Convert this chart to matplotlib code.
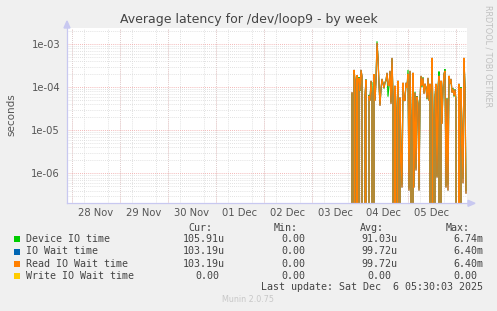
import datetime as dt
import numpy as np
import matplotlib
matplotlib.use("Agg")
import matplotlib.pyplot as plt
import matplotlib.dates as mdates
from matplotlib.ticker import FixedLocator, NullFormatter, LogLocator
from matplotlib.patches import Polygon, Rectangle

# ---------------- data ----------------
title = "Average latency for /dev/loop9 - by week"
y_label = "seconds"
series_start = dt.datetime(2025, 12, 3, 20, 0)
step_minutes = 30

# values in microseconds (0 = below the axis)
read_wait_us = [
    74, 0, 250, 140, 0, 190, 0, 164, 82, 250, 180, 0, 0, 63, 148, 0, 0, 63, 48, 140,
    70, 0, 200, 48, 140, 1050, 480, 120, 37, 90, 155, 120, 96, 130, 140, 214, 110, 107, 238, 41,
    475, 60, 0, 107, 0, 30, 140, 0, 57, 3, 0.47, 126, 50, 48, 126, 96, 203, 0.4, 238, 20,
    0, 214, 0.47, 74, 1.17, 60, 41, 0.4, 48, 182, 107, 164, 70, 120, 96, 54, 164, 48, 119, 0,
    475, 20, 0, 57, 119, 0.8, 90, 182, 0, 140, 14, 90, 203, 238, 0.47, 54, 0.4, 182, 120, 155,
    74, 91, 63, 87, 48, 0, 0, 119, 0, 96, 10, 0.59, 475, 96, 0.35,
]
device_io_us = [
    70, 0, 240, 150, 0, 185, 0, 170, 80, 245, 175, 0, 0, 60, 150, 0, 0, 66, 50, 135,
    126, 0, 190, 52, 150, 1150, 470, 115, 40, 88, 150, 125, 92, 125, 145, 205, 60, 110, 230, 45,
    460, 62, 0, 105, 0, 32, 135, 0, 55, 3.2, 0.55, 120, 52, 50, 122, 100, 250, 0.45, 230, 22,
    0, 205, 0.5, 78, 1.3, 62, 43, 0.45, 50, 175, 100, 170, 75, 115, 100, 52, 158, 50, 115, 0,
    460, 22, 0, 60, 115, 0.85, 95, 230, 0, 135, 15, 95, 198, 260, 0.5, 56, 0.55, 175, 118, 150,
    78, 95, 60, 90, 50, 0, 0, 115, 0, 100, 11, 0.75, 460, 100, 0.4,
]
io_wait_us = list(read_wait_us)  # identical to read wait in the reference
write_wait_us = [0] * len(read_wait_us)

series_names = ["Device IO time", "IO Wait time", "Read IO Wait time", "Write IO Wait time"]
series_colors = ["#00cc00", "#0066b3", "#ff8000", "#ffcc00"]
cur_vals = ["105.91u", "103.19u", "103.19u", "0.00"]
min_vals = ["0.00", "0.00", "0.00", "0.00"]
avg_vals = ["91.03u", "99.72u", "99.72u", "0.00"]
max_vals = ["6.74m", "6.40m", "6.40m", "0.00"]
day_labels = ["28 Nov", "29 Nov", "30 Nov", "01 Dec", "02 Dec", "03 Dec", "04 Dec", "05 Dec"]
y_ticks = [1e-6, 1e-5, 1e-4, 1e-3]
y_tick_labels = ["1e-06", "1e-05", "1e-04", "1e-03"]
last_update = "Last update: Sat Dec  6 05:30:03 2025"
version = "Munin 2.0.75"
side_text = "RRDTOOL / TOBI OETIKER"

x_start = dt.datetime(2025, 11, 27, 21, 30)
x_end = dt.datetime(2025, 12, 6, 5, 30)
y_min, y_max = 2.03e-7, 2.34e-3

# ---------------- figure ----------------
W, H = 497, 311
fig = plt.figure(figsize=(W / 100, H / 100), dpi=100, facecolor="#f0f0f0")

def fx(px):
    return px / W

def fy(py):
    return 1 - py / H

left, right, top, bottom = 67, 467, 28, 203.3
ax = fig.add_axes([fx(left), fy(bottom), (right - left) / W, (bottom - top) / H])
ax.set_facecolor("white")

times = [series_start + dt.timedelta(minutes=step_minutes * i) for i in range(len(read_wait_us))]
widths = [0.8, 0.8, 0.9, 0.8]
for vals, col, lw in zip([device_io_us, io_wait_us, read_wait_us, write_wait_us], series_colors, widths):
    ax.plot(times, np.array(vals, dtype=float) * 1e-6, color=col, lw=lw, solid_joinstyle="miter")

ax.set_yscale("log", nonpositive="clip")
ax.set_ylim(y_min, y_max)
ax.set_xlim(x_start, x_end)

# y ticks / grid
ax.yaxis.set_major_locator(FixedLocator(y_ticks))
ax.set_yticklabels(y_tick_labels)
ax.yaxis.set_minor_locator(LogLocator(base=10, subs=np.arange(2, 10)))
ax.yaxis.set_minor_formatter(NullFormatter())
ax.grid(True, which="major", axis="y", color="#f0a0a0", lw=0.6, ls=(0, (1, 1.5)))
ax.grid(True, which="minor", axis="y", color="#d8d8d8", lw=0.6, ls=(0, (1, 1.5)))

# x ticks at noon, grid every 6h, red at midnight
noon_ticks = [dt.datetime(2025, 11, 28, 12) + dt.timedelta(days=i) for i in range(len(day_labels))]
ax.xaxis.set_major_locator(FixedLocator(mdates.date2num(noon_ticks)))
ax.set_xticklabels(day_labels)
ax.xaxis.set_minor_locator(mdates.HourLocator(byhour=[0, 6, 12, 18]))
ax.grid(True, which="minor", axis="x", color="#d8d8d8", lw=0.6, ls=(0, (1, 1.5)))
d = dt.datetime(2025, 11, 28)
while d < x_end:
    ax.axvline(d, color="#f0a0a0", lw=0.6, ls=(0, (1, 1.5)), zorder=0.5)
    d += dt.timedelta(days=1)
ax.set_axisbelow(True)

ax.tick_params(which="both", length=0, labelsize=7.2, colors="#555555")
ax.tick_params(axis="y", pad=5)
ax.tick_params(axis="x", pad=3.5)

for s in ["top", "right"]:
    ax.spines[s].set_visible(False)
for s in ["left", "bottom"]:
    ax.spines[s].set_color("#c8c8f0")
    ax.spines[s].set_linewidth(0.9)

# axis arrows
fig.patches.append(Polygon([[fx(64), fy(28)], [fx(70), fy(28)], [fx(67), fy(21)]],
                           closed=True, transform=fig.transFigure, color="#c8c8f0"))
fig.patches.append(Polygon([[fx(468), fy(200.3)], [fx(468), fy(206.3)], [fx(475), fy(203.3)]],
                           closed=True, transform=fig.transFigure, color="#c8c8f0"))

# texts
fig.text(fx(248.5), fy(19), title, ha="center", va="center", fontsize=9.0, color="#444444")
fig.text(fx(11), fy(115), y_label, rotation=90, ha="center", va="center", fontsize=7.5, color="#555555")
fig.text(fx(488), fy(5), side_text, rotation=270, ha="center", va="top", fontsize=5.8, color="#c0c0c0")

mono = "DejaVu Sans Mono"
ms = 7.2
tc = "#444444"
col_end = [225, 311, 397, 483]
headers = ["Cur:", "Min:", "Avg:", "Max:"]
for cx, hname in zip(col_end, headers):
    fig.text(fx(cx - 13), fy(228), hname, ha="right", va="center", family=mono, fontsize=ms, color=tc)
row_y = [239.3, 251.5, 263.6, 275.7]
for i, name in enumerate(series_names):
    y = row_y[i]
    fig.patches.append(Rectangle((fx(14), fy(y + 3)), 6 / W, 6 / H, transform=fig.transFigure,
                                 facecolor=series_colors[i], edgecolor="none"))
    fig.text(fx(26), fy(y), name, ha="left", va="center", family=mono, fontsize=ms, color=tc)
    for cx, v in zip(col_end, [cur_vals[i], min_vals[i], avg_vals[i], max_vals[i]]):
        xr = cx if v[-1].isalpha() else cx - 6
        fig.text(fx(xr), fy(y), v, ha="right", va="center", family=mono, fontsize=ms, color=tc)
fig.text(fx(483), fy(287.3), last_update, ha="right", va="center", family=mono, fontsize=ms, color=tc)
fig.text(fx(248), fy(300), version, ha="center", va="center", fontsize=5.8, color="#c8c8c8")

fig.savefig("out.png", dpi=100, facecolor=fig.get_facecolor())
